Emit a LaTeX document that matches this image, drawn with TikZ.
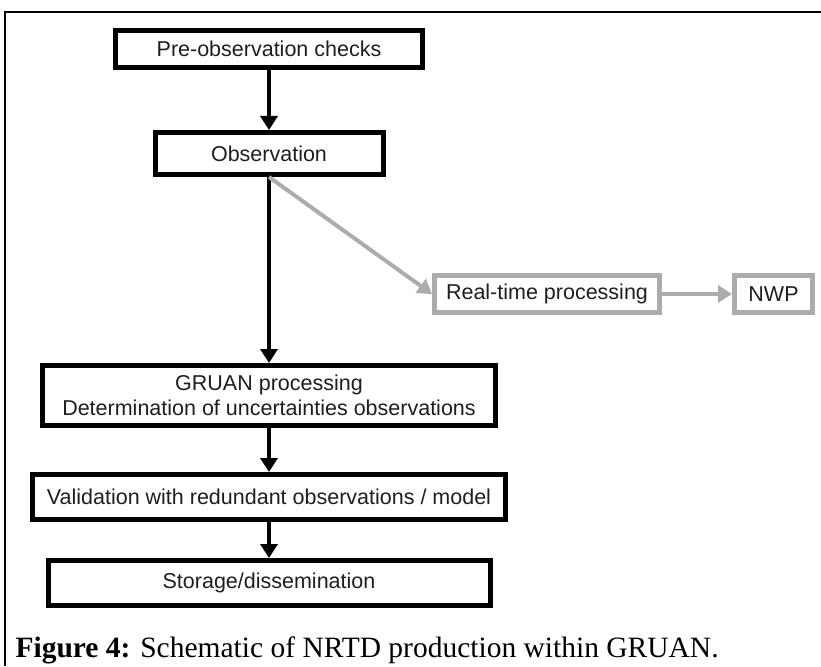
\documentclass[tikz,border=0pt]{standalone}
\usepackage{fontspec}
\setmainfont{Liberation Serif}
\setsansfont{Liberation Sans}
\usetikzlibrary{arrows.meta}
\definecolor{boxgray}{RGB}{172, 172, 172}
\definecolor{textgray}{RGB}{30, 30, 30}

\begin{document}
\begin{tikzpicture}[x=1pt, y=-1pt,
      stage/.style={draw, line width=5pt, inner sep=0pt, align=center, text=textgray, font=\sffamily\fontsize{21.5}{25}\selectfont},
      sidestage/.style={stage, draw=boxgray},
      flow/.style={-{Triangle[length=14pt, width=17pt]}, line width=4pt},
      sideflow/.style={flow, draw=boxgray}
    ]
      \useasboundingbox (0,0) rectangle (821,666);

      % Frame
      \draw[line width=2.5pt] (5,666) -- (5,12) -- (821,12);

      % Stages
      \node[stage, minimum width=307, minimum height=37] (pre) at (269,49) {Pre-observation checks};
      \node[stage, minimum width=228, minimum height=42] (obs) at (269,153.5) {Observation};
      \node[stage, minimum width=453, minimum height=60] (gruan) at (269,395.5) {GRUAN processing\\Determination of uncertainties observations};
      \node[stage, minimum width=473, minimum height=45] (valid) at (269,497) {Validation with redundant observations / model};
      \node[stage, minimum width=442, minimum height=45] (store) at (269,583) {Storage/dissemination};

      % Real-time branch
      \node[sidestage, minimum width=225, minimum height=37] (rt) at (547,294) {Real-time processing};
      \node[sidestage, minimum width=78, minimum height=37] (nwp) at (773.5,294) {NWP};

      % Arrows
      \draw[flow] (pre) -- (obs);
      \draw[flow] (obs) -- (gruan);
      \draw[flow] (gruan) -- (valid);
      \draw[flow] (valid) -- (store);
      \draw[sideflow] (obs.south) -- (rt.west);
      \draw[sideflow] (rt) -- (nwp);

      % Caption
      \node[anchor=base west, font=\fontsize{29.5}{32}\selectfont] (caption) at (12,657) {\textbf{Figure 4:} Schematic of NRTD production within GRUAN.};
    \end{tikzpicture}
\end{document}
